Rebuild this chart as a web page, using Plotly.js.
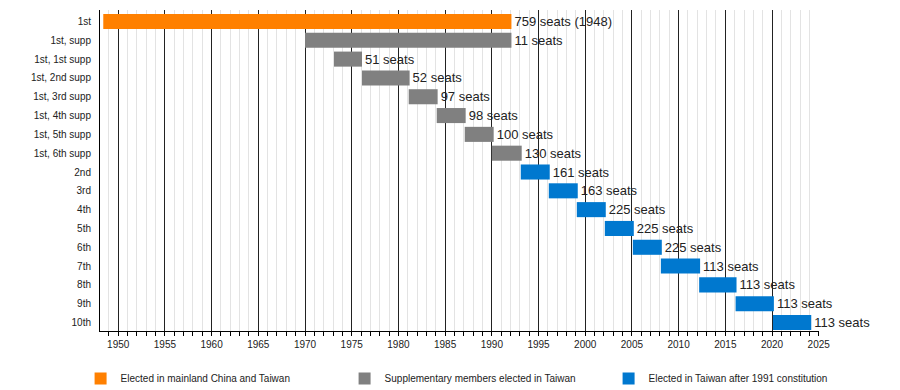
<!DOCTYPE html>
<html>
<head>
<meta charset="utf-8">
<script src="https://cdn.plot.ly/plotly-3.0.1.min.js"></script>
<style>html,body{margin:0;padding:0;background:#fff;}#chart{width:900px;height:390px;}</style>
</head>
<body>
<div id="chart"></div>
<script>
// Legislative Yuan terms
var categories = ["1st","1st, supp","1st, 1st supp","1st, 2nd supp","1st, 3rd supp","1st, 4th supp","1st, 5th supp","1st, 6th supp","2nd","3rd","4th","5th","6th","7th","8th","9th","10th"];
var startYears = [1948.4, 1970.0, 1973.1, 1976.1, 1981.1, 1984.1, 1987.1, 1990.0, 1993.1, 1996.1, 1999.1, 2002.1, 2005.1, 2008.1, 2012.2, 2016.1, 2020.1];
var endYears   = [1992.1, 1992.1, 1976.1, 1981.2, 1984.2, 1987.2, 1990.2, 1993.2, 1996.2, 1999.2, 2002.2, 2005.2, 2008.2, 2012.3, 2016.2, 2020.2, 2024.2];
var seats      = [759, 11, 51, 52, 97, 98, 100, 130, 161, 163, 225, 225, 225, 113, 113, 113, 113];
var labelNotes = ["(1948)", "", "", "", "", "", "", "", "", "", "", "", "", "", "", "", ""];
var groupOf    = [0, 1, 1, 1, 1, 1, 1, 1, 2, 2, 2, 2, 2, 2, 2, 2, 2];
var groupNames = ["Elected in mainland China and Taiwan", "Supplementary members elected in Taiwan", "Elected in Taiwan after 1991 constitution"];
var groupColors = ["#ff8000", "#808080", "#0078cf"];
var FONT = "Liberation Sans, Arial, sans-serif";

var traces = groupNames.map(function (name, g) {
  var y = [], base = [], x = [], text = [];
  for (var i = 0; i < categories.length; i++) {
    if (groupOf[i] !== g) continue;
    y.push(categories[i]);
    base.push(startYears[i]);
    x.push(endYears[i] - startYears[i]);
    text.push(seats[i] + " seats" + (labelNotes[i] ? " " + labelNotes[i] : ""));
  }
  return {
    type: "bar", orientation: "h", name: name,
    y: y, x: x, base: base, width: 0.8,
    marker: {color: groupColors[g], line: {width: 0}},
    text: text, textposition: "outside", cliponaxis: false, constraintext: "none",
    textfont: {family: FONT, size: 13, color: "#222"},
    hoverinfo: "skip"
  };
});

var layout = {
  width: 900, height: 390,
  margin: {l: 100, r: 81, t: 10, b: 59, pad: 0, autoexpand: false},
  paper_bgcolor: "#fff", plot_bgcolor: "#fff",
  barmode: "overlay",
  font: {family: FONT, size: 10, color: "#222"},
  showlegend: true,
  legend: {orientation: "h", x: -0.027, xanchor: "left", y: -0.103, yanchor: "top",
           font: {family: FONT, size: 10, color: "#222"}, entrywidth: 219, entrywidthmode: "pixels",
           itemclick: false, traceorder: "normal"},
  xaxis: {
    range: [1948.05, 2025.03], tick0: 1950, dtick: 5,
    showgrid: true, gridcolor: "#222", gridwidth: 1,
    showline: true, linecolor: "#000", linewidth: 1,
    ticks: "outside", ticklen: 4, tickcolor: "#000",
    tickfont: {family: FONT, size: 10, color: "#222"},
    zeroline: false,
    minor: {dtick: 1, tick0: 1950, showgrid: true, gridcolor: "#e3e3e3", gridwidth: 1,
            ticks: "outside", ticklen: 4, tickcolor: "#000"}
  },
  yaxis: {
    type: "category", categoryorder: "array", categoryarray: categories,
    range: [16.45, -0.61],
    showgrid: false, zeroline: false,
    showline: true, linecolor: "#000", linewidth: 1,
    ticks: "", ticklabelstandoff: 6,
    tickfont: {family: FONT, size: 10, color: "#222"}
  }
};

Plotly.newPlot("chart", traces, layout, {displayModeBar: false, staticPlot: true});
</script>
</body>
</html>
